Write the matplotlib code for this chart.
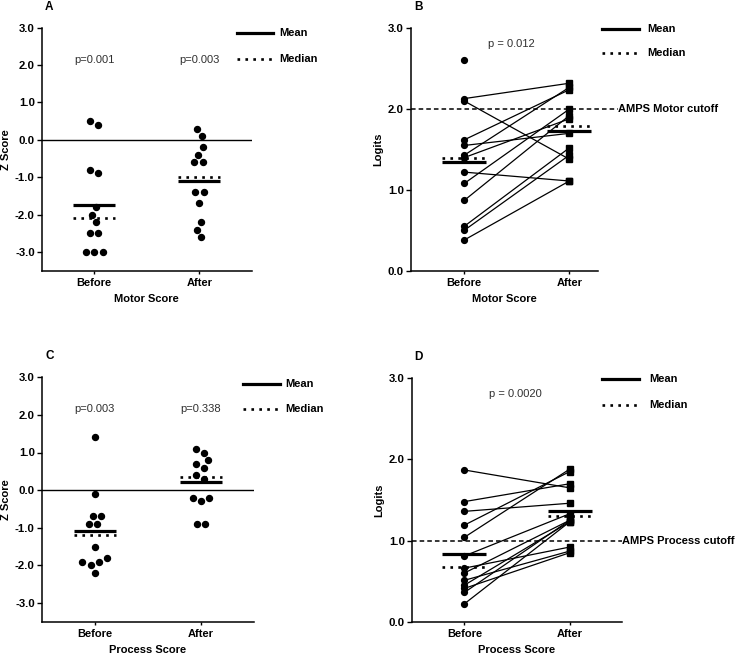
import numpy as np
import matplotlib
matplotlib.use("Agg")
import matplotlib.pyplot as plt
from matplotlib.lines import Line2D

plt.rcParams['font.family'] = ['Liberation Sans', 'DejaVu Sans']
plt.rcParams['axes.unicode_minus'] = False

# ---------------- data ----------------
categories = ["Before", "After"]

# Panel A: motor Z scores
a_before = [0.5, 0.4, -0.9, -0.8, -1.8, -2.0, -2.2, -2.5, -2.5, -3.0, -3.0, -3.0]
a_after = [0.3, 0.1, -0.2, -0.4, -0.6, -0.6, -1.4, -1.4, -1.7, -2.2, -2.4, -2.6]
a_mean = [-1.73, -1.09]
a_median = [-2.1, -1.0]
a_pvals = ["p=0.001", "p=0.003"]

# Panel C: process Z scores
c_before = [1.4, -0.1, -0.7, -0.7, -0.9, -0.9, -1.5, -1.8, -1.9, -1.9, -2.0, -2.2]
c_after = [1.1, 1.0, 0.8, 0.7, 0.6, 0.4, 0.3, -0.2, -0.2, -0.3, -0.9, -0.9]
c_mean = [-1.08, 0.21]
c_median = [-1.2, 0.36]
c_pvals = ["p=0.003", "p=0.338"]

# Panel B: motor logits (paired), plus one unpaired before value
b_before = [2.13, 2.10, 1.62, 1.55, 1.43, 1.40, 1.22, 1.08, 0.87, 0.55, 0.50, 0.38]
b_after = [2.32, 1.38, 2.24, 1.70, 2.27, 1.88, 1.11, 2.00, 1.92, 1.52, 1.43, 1.11]
b_before_unpaired = [2.61]
b_mean = [1.34, 1.73]
b_median = [1.39, 1.79]
b_pval = "p = 0.012"
b_cutoff = 2.0
b_cutoff_label = "AMPS Motor cutoff"

# Panel D: process logits (paired)
d_before = [1.87, 1.48, 1.36, 1.19, 1.04, 0.81, 0.66, 0.60, 0.51, 0.45, 0.41, 0.36, 0.22]
d_after = [1.65, 1.70, 1.46, 1.85, 1.88, 1.33, 0.92, 1.25, 0.87, 1.23, 0.85, 1.25, 1.23]
d_mean = [0.83, 1.36]
d_median = [0.67, 1.30]
d_pval = "p = 0.0020"
d_cutoff = 1.0
d_cutoff_label = "AMPS Process cutoff"

z_ticks = [3.0, 2.0, 1.0, 0.0, -1.0, -2.0, -3.0]
logit_ticks = [0.0, 1.0, 2.0, 3.0]

# ---------------- figure ----------------
W, H = 736, 655
fig = plt.figure(figsize=(W / 100, H / 100), dpi=100)


def px_axes(x0, x1, ytop, ybot):
    return fig.add_axes([x0 / W, 1 - ybot / H, (x1 - x0) / W, (ybot - ytop) / H])


TICK_FS = 8.2
LAB_FS = 8
DOT = (0, (1, 2))
MEAN_LW = 2.3
MED_LW = 1.9


def style(ax, ylim, yticks, xlim, xlabel, ylabel):
    ax.set_xlim(*xlim)
    ax.set_ylim(*ylim)
    ax.set_yticks(yticks)
    ax.set_yticklabels([f"{t:.1f}" for t in yticks], fontsize=TICK_FS, fontweight='bold')
    ax.set_xticks([0, 1])
    ax.set_xticklabels(categories, fontsize=LAB_FS, fontweight='bold')
    ax.set_xlabel(xlabel, fontsize=LAB_FS, fontweight='bold', labelpad=4)
    ax.set_ylabel(ylabel, fontsize=LAB_FS, fontweight='bold', labelpad=3)
    for s in ['top', 'right']:
        ax.spines[s].set_visible(False)
    for s in ['left', 'bottom']:
        ax.spines[s].set_linewidth(1.1)
    ax.tick_params(axis='y', direction='out', length=3.5, width=1, pad=1.5)
    ax.tick_params(axis='x', direction='out', length=2.5, width=1, pad=3)


def beeswarm(values, center, ypx, xpx, d=8.3, step=4.15):
    """Greedy beeswarm layout (pixel space), with each touching cluster re-centred."""
    vals = np.asarray(values, float)
    order = np.argsort(vals, kind='stable')
    cands = [0.0]
    for m in range(1, 10):
        cands += [-m * step, m * step]
    placed = []
    off = np.zeros(len(vals))
    for i in order:
        y = vals[i] * ypx
        for c in cands:
            if all((c - px) ** 2 + (y - py) ** 2 >= (d * 0.999) ** 2 for px, py in placed):
                break
        placed.append((c, y))
        off[i] = c
    # re-centre clusters (chains of points closer than d vertically)
    cluster = []
    last_y = None
    for i in order:
        y = vals[i] * ypx
        if last_y is not None and y - last_y >= d:
            idx = np.array(cluster)
            off[idx] -= off[idx].mean()
            cluster = []
        cluster.append(i)
        last_y = y
    if cluster:
        idx = np.array(cluster)
        off[idx] -= off[idx].mean()
    return center + off / xpx


def legend_px(x0, x1, y_mean, y_med, xt):
    fig.add_artist(Line2D([x0 / W, x1 / W], [1 - y_mean / H] * 2, color='k', lw=MEAN_LW,
                          transform=fig.transFigure))
    fig.add_artist(Line2D([x0 / W, x1 / W], [1 - y_med / H] * 2, color='k', lw=MED_LW,
                          linestyle=DOT, transform=fig.transFigure))
    fig.text(xt / W, 1 - y_mean / H, "Mean", fontsize=LAB_FS, fontweight='bold', va='center')
    fig.text(xt / W, 1 - y_med / H, "Median", fontsize=LAB_FS, fontweight='bold', va='center')


def summary_lines(ax, means, medians, hw=0.2):
    for i, (m, md) in enumerate(zip(means, medians)):
        ax.plot([i - hw, i + hw], [md, md], color='k', lw=MED_LW, linestyle=DOT, zorder=4)
        ax.plot([i - hw, i + hw], [m, m], color='k', lw=MEAN_LW, zorder=4, solid_capstyle='butt')


LETTER_FS = 8.5
P_COLOR = '#303030'

# ---------- Panel A ----------
axA = px_axes(41.7, 252, 27.7, 270.7)
style(axA, (-3.5, 3.0), z_ticks, (-0.5, 1.5), "Motor Score", "Z Score")
axA.axhline(0, color='k', lw=1.0, zorder=1)
ypxA = 243 / 6.5
for i, vals in enumerate([a_before, a_after]):
    axA.plot(beeswarm(vals, i, ypxA, 105), vals, 'o', color='k', ms=4.3, zorder=3)
summary_lines(axA, a_mean, a_median)
for i, p in enumerate(a_pvals):
    axA.text(i, 2.13, p, ha='center', va='center', fontsize=8, color=P_COLOR)
legend_px(237, 273, 33, 59, 279)
fig.text(45 / W, 1 - 6.5 / H, "A", fontsize=LETTER_FS, fontweight='bold', va='center')

# ---------- Panel C ----------
axC = px_axes(41.7, 254, 377.3, 621.7)
style(axC, (-3.5, 3.0), z_ticks, (-0.5, 1.5), "Process Score", "Z Score")
axC.axhline(0, color='k', lw=1.0, zorder=1)
ypxC = 244.4 / 6.5
for i, vals in enumerate([c_before, c_after]):
    axC.plot(beeswarm(vals, i, ypxC, 106), vals, 'o', color='k', ms=4.3, zorder=3)
summary_lines(axC, c_mean, c_median)
for i, p in enumerate(c_pvals):
    axC.text(i, 2.16, p, ha='center', va='center', fontsize=8, color=P_COLOR)
legend_px(243, 280, 384, 409, 285)
fig.text(45 / W, 1 - 356 / H, "C", fontsize=LETTER_FS, fontweight='bold', va='center')

# ---------- Panel B ----------
axB = px_axes(410.7, 597.7, 28.3, 270.7)
style(axB, (0.0, 3.0), logit_ticks, (-0.51, 1.27), "Motor Score", "Logits")
for bv, av in zip(b_before, b_after):
    axB.plot([0, 1], [bv, av], color='k', lw=0.9, zorder=2)
axB.plot(np.zeros(len(b_before) + len(b_before_unpaired)), b_before + b_before_unpaired,
         'o', color='k', ms=4.2, zorder=3)
axB.plot(np.ones(len(b_after)), b_after, 's', color='k', ms=4.2, zorder=3)
summary_lines(axB, b_mean, b_median, hw=0.21)
axB.axhline(b_cutoff, xmin=0, xmax=1.108, color='k', lw=1.1, linestyle=(0, (3, 2)),
            clip_on=False, zorder=1)
axB.text(1.11, b_cutoff, b_cutoff_label, transform=axB.get_yaxis_transform(),
         fontsize=LAB_FS, fontweight='bold', va='center', ha='left')
axB.text(0.45, 2.81, b_pval, ha='center', va='center', fontsize=8, color=P_COLOR)
legend_px(602, 639, 29.3, 53, 647)
fig.text(414 / W, 1 - 6.5 / H, "B", fontsize=LETTER_FS, fontweight='bold', va='center')

# ---------- Panel D ----------
axD = px_axes(411.7, 622.3, 378.3, 621.7)
style(axD, (0.0, 3.0), logit_ticks, (-0.5, 1.5), "Process Score", "Logits")
for bv, av in zip(d_before, d_after):
    axD.plot([0, 1], [bv, av], color='k', lw=0.9, zorder=2)
axD.plot(np.zeros(len(d_before)), d_before, 'o', color='k', ms=4.2, zorder=3)
axD.plot(np.ones(len(d_after)), d_after, 's', color='k', ms=4.2, zorder=3)
summary_lines(axD, d_mean, d_median, hw=0.21)
axD.axhline(d_cutoff, xmin=0, xmax=1.0, color='k', lw=1.1, linestyle=(0, (3, 2)),
            clip_on=False, zorder=1)
axD.text(1.0, d_cutoff, d_cutoff_label, transform=axD.get_yaxis_transform(),
         fontsize=LAB_FS, fontweight='bold', va='center', ha='left')
axD.text(0.48, 2.81, d_pval, ha='center', va='center', fontsize=8, color=P_COLOR)
legend_px(602, 639, 379.3, 405, 649)
fig.text(414 / W, 1 - 357.5 / H, "D", fontsize=LETTER_FS, fontweight='bold', va='center')

fig.savefig("out.png", dpi=100)
